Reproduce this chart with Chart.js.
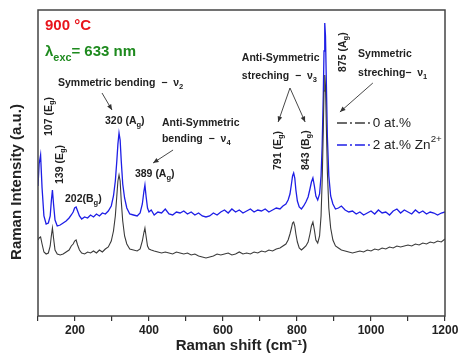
<!DOCTYPE html>
<html>
<head>
<meta charset="utf-8">
<script src="https://cdn.jsdelivr.net/npm/chart.js@4.4.1/dist/chart.umd.min.js"></script>
<style>body{margin:0;background:#fff}</style>
</head>
<body>
<canvas id="raman" width="461" height="353"></canvas>
<script>
// Raman shift (cm-1) sample positions
const shifts = [
  100,103,107,111,116,122,128,133,136,139,
  142,146,152,160,168,176,184,190,195,199,
  203,207,212,218,226,234,242,250,258,266,
  274,282,290,298,304,309,313,316,319,322,
  325,329,334,340,348,358,368,376,382,386,
  389,392,396,400,406,414,424,434,444,454,
  464,474,484,494,504,514,524,534,544,554,
  564,574,584,594,604,614,624,634,644,654,
  664,674,684,694,704,714,724,734,744,754,
  762,770,776,781,785,788,791,794,797,801,
  806,812,818,824,830,835,839,843,847,851,
  856,861,865,868,871,873,875,877,879,882,
  886,891,897,904,912,920,930,940,950,960,
  970,980,990,1000,1010,1020,1030,1040,1050,1060,
  1070,1080,1090,1100,1110,1120,1130,1140,1150,1160,
  1170,1180,1190,1200
];

// 0 at.% (black)
const pure = [
  76,78,79,72,64,62,63,70,80,88,
  78,66,62,61,62,64,66,70,72,75,
  76,71,66,63,62,64,63,65,63,66,
  64,67,69,75,85,100,120,135,141,135,
  115,95,80,72,67,66,65,67,75,83,
  88,80,70,67,66,65,64,63,64,63,
  62,64,63,62,63,61,62,60,59,58,
  59,60,62,61,62,63,61,62,64,62,
  63,62,64,63,65,64,66,65,67,68,
  70,72,76,82,88,93,94,90,82,74,
  68,66,68,70,74,82,90,94,86,76,
  73,80,100,135,185,225,241,230,195,145,
  108,88,76,70,68,66,65,64,63,64,
  65,64,66,65,67,66,68,67,69,68,
  70,69,70,71,70,72,71,73,72,74,
  73,75,74,77
];

// 2 at.% Zn2+ (blue)
const doped = [
  130,152,161,128,100,92,93,100,115,126,
  112,96,90,91,93,95,98,101,104,108,
  109,105,100,97,99,98,101,99,102,100,
  103,102,105,110,120,135,155,172,183,176,
  155,132,118,108,102,101,100,103,112,124,
  131,120,108,104,106,101,104,103,107,102,
  101,104,103,105,102,104,101,103,100,99,
  100,103,101,104,106,103,107,104,106,103,
  105,107,104,106,105,107,104,106,108,107,
  110,112,116,122,132,140,143,138,126,115,
  109,107,110,114,119,127,134,138,130,120,
  116,122,140,170,220,265,293,280,240,180,
  140,120,112,107,108,110,106,104,105,102,
  104,101,103,105,102,106,103,104,101,105,
  107,103,106,104,102,106,103,105,102,104,
  103,101,103,104
];

const xTickLabels = [200, 400, 600, 800, 1000, 1200];
const seriesNames = ['0 at.%', '2 at.% Zn^{2+}'];

// annotation texts, placed in data units (shift, intensity)
const notes = [
  {t: 'Symmetric bending  \u2212  \u03bd_{2}', x: 154, y: 230},
  {t: '320 (A_{g})', x: 281, y: 192},
  {t: 'Anti-Symmetric', x: 435, y: 190},
  {t: 'bending  \u2212  \u03bd_{4}', x: 435, y: 174},
  {t: '389 (A_{g})', x: 362, y: 139},
  {t: '202(B_{g})', x: 173, y: 114},
  {t: 'Anti-Symmetric', x: 651, y: 255},
  {t: 'streching  \u2212  \u03bd_{3}', x: 651, y: 237},
  {t: 'Symmetric', x: 965, y: 259},
  {t: 'streching\u2212  \u03bd_{1}', x: 965, y: 240}
];
const peakLabels = [
  {t: '107 (E_{g})', x: 130, y: 180},
  {t: '139 (E_{g})', x: 159, y: 132},
  {t: '791 (E_{g})', x: 749, y: 146},
  {t: '843 (B_{g})', x: 824, y: 146},
  {t: '875 (A_{g})', x: 924, y: 244}
];
const arrows = [
  [273, 223, 300, 206],
  [465, 166, 411, 153],
  [781, 228, 749, 194],
  [781, 228, 822, 194],
  [1005, 233, 916, 204]
];

function drawRich(ctx, str, x, y, size, weight) {
  const re = /([_^])\{([^}]*)\}|([^_^]+)/g;
  let m, cx = x;
  while ((m = re.exec(str))) {
    let t = m[3], s = size, dy = 0;
    if (!t) {
      t = m[2];
      s = size * 0.72;
      dy = m[1] === '_' ? size * 0.3 : -size * 0.42;
    }
    ctx.font = weight + ' ' + s + 'px Arial, "Liberation Sans", sans-serif';
    ctx.fillText(t, cx, y + dy);
    cx += ctx.measureText(t).width;
  }
  return cx;
}

const decor = {
  id: 'decor',
  afterDraw(chart) {
    const {ctx, chartArea: a, scales: {x, y}} = chart;
    const px = v => x.getPixelForValue(v);
    const py = v => y.getPixelForValue(v);
    ctx.save();

    // frame
    ctx.strokeStyle = '#444';
    ctx.lineWidth = 1.5;
    ctx.strokeRect(a.left, a.top, a.right - a.left, a.bottom - a.top);

    // y title
    ctx.fillStyle = '#222';
    ctx.font = 'bold 15px Arial, "Liberation Sans", sans-serif';
    ctx.textAlign = 'center';
    ctx.textBaseline = 'middle';
    ctx.save();
    ctx.translate(17, 182);
    ctx.rotate(-Math.PI / 2);
    ctx.fillText('Raman Intensity (a.u.)', 0, 0);
    ctx.restore();

    ctx.textAlign = 'left';
    ctx.textBaseline = 'alphabetic';

    // condition labels
    ctx.fillStyle = '#e8141b';
    drawRich(ctx, '900 \u00b0C', px(119), py(286), 15, 'bold');
    ctx.fillStyle = '#1e8a1e';
    drawRich(ctx, '\u03bb_{exc}= 633 nm', px(119), py(260), 15, 'bold');

    // notes
    ctx.fillStyle = '#222';
    notes.forEach(n => drawRich(ctx, n.t, px(n.x), py(n.y), 10.5, 'bold'));

    ctx.textBaseline = 'middle';
    peakLabels.forEach(n => {
      ctx.save();
      ctx.translate(px(n.x), py(n.y));
      ctx.rotate(-Math.PI / 2);
      drawRich(ctx, n.t, 0, 0, 10.5, 'bold');
      ctx.restore();
    });

    // arrows
    ctx.strokeStyle = '#333';
    ctx.fillStyle = '#333';
    ctx.lineWidth = 0.9;
    arrows.forEach(([x0, y0, x1, y1]) => {
      const X0 = px(x0), Y0 = py(y0), X1 = px(x1), Y1 = py(y1);
      const ang = Math.atan2(Y1 - Y0, X1 - X0);
      ctx.beginPath();
      ctx.moveTo(X0, Y0);
      ctx.lineTo(X1, Y1);
      ctx.stroke();
      ctx.beginPath();
      ctx.moveTo(X1, Y1);
      ctx.lineTo(X1 - 6 * Math.cos(ang - 0.4), Y1 - 6 * Math.sin(ang - 0.4));
      ctx.lineTo(X1 - 6 * Math.cos(ang + 0.4), Y1 - 6 * Math.sin(ang + 0.4));
      ctx.closePath();
      ctx.fill();
    });

    // legend
    const legendY = [193, 171];
    chart.data.datasets.forEach((ds, i) => {
      const ly = py(legendY[i]);
      ctx.strokeStyle = ds.borderColor;
      ctx.lineWidth = 1.3;
      ctx.setLineDash([10, 3, 2, 3]);
      ctx.beginPath();
      ctx.moveTo(px(908), ly);
      ctx.lineTo(px(997), ly);
      ctx.stroke();
      ctx.setLineDash([]);
      ctx.fillStyle = '#222';
      ctx.textBaseline = 'middle';
      drawRich(ctx, seriesNames[i], px(1005), ly, 13.5, 'normal');
    });

    ctx.restore();
  }
};

new Chart(document.getElementById('raman'), {
  type: 'line',
  data: {
    datasets: [
      {
        label: seriesNames[0],
        data: shifts.map((s, i) => ({x: s, y: pure[i]})),
        borderColor: '#3a3a3a',
        borderWidth: 1.1,
        pointRadius: 0,
        tension: 0
      },
      {
        label: seriesNames[1],
        data: shifts.map((s, i) => ({x: s, y: doped[i]})),
        borderColor: '#1e1ee6',
        borderWidth: 1.3,
        pointRadius: 0,
        tension: 0
      }
    ]
  },
  options: {
    responsive: false,
    animation: false,
    layout: {padding: {left: 38, top: 10, right: 16, bottom: 0}},
    plugins: {legend: {display: false}, tooltip: {enabled: false}},
    scales: {
      x: {
        type: 'linear',
        min: 100,
        max: 1200,
        afterFit: s => { s.height = 37; },
        border: {display: false},
        grid: {drawOnChartArea: false, tickLength: 5, color: '#333', lineWidth: 1.2},
        ticks: {
          stepSize: 100,
          autoSkip: false,
          maxRotation: 0,
          padding: 2,
          color: '#222',
          font: {family: 'Arial', weight: 'bold', size: 12},
          callback: v => xTickLabels.includes(v) ? v : ''
        },
        title: {
          display: true,
          text: 'Raman shift (cm\u207b\u00b9)',
          color: '#222',
          padding: {top: 0, bottom: 0},
          font: {family: 'Arial', weight: 'bold', size: 15, lineHeight: 1}
        }
      },
      y: {
        display: false,
        min: 0,
        max: 306
      }
    }
  },
  plugins: [decor]
});
</script>
</body>
</html>
